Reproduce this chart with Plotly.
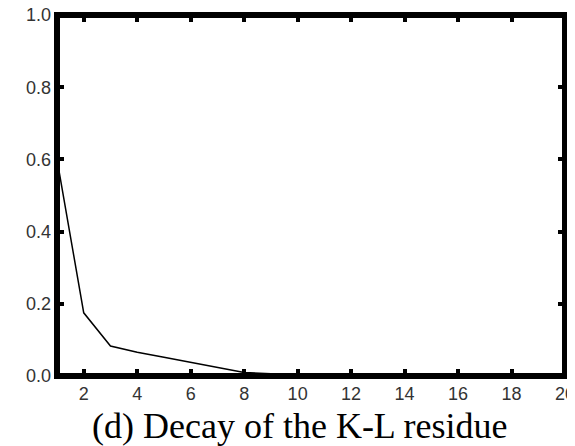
import plotly.graph_objects as go

# Data
x_vals = [1, 2, 3, 4, 5, 6, 7, 8, 9, 10, 11]
residue = [0.60, 0.175, 0.083, 0.066, 0.052, 0.038, 0.024, 0.010, 0.006, 0.004, 0.002]
x_ticks = [2, 4, 6, 8, 10, 12, 14, 16, 18, 20]
y_ticks = [0.0, 0.2, 0.4, 0.6, 0.8, 1.0]
y_tick_text = ["0.0", "0.2", "0.4", "0.6", "0.8", "1.0"]
caption = "(d) Decay of the K-L residue"

fig = go.Figure()
fig.add_trace(go.Scatter(x=x_vals, y=residue, mode="lines",
                         line=dict(color="black", width=1.5),
                         showlegend=False, hoverinfo="skip"))

tickfont = dict(family="Liberation Sans, Arial, sans-serif", size=18, color="#333333")

fig.update_xaxes(range=[1, 20], tickvals=x_ticks, ticks="inside", ticklen=7,
                 tickwidth=4, tickcolor="black", mirror="ticks", showline=False,
                 showgrid=False, zeroline=False, tickfont=tickfont, ticklabelstandoff=5,
                 ticklabeloverflow="allow", automargin=False)
fig.update_yaxes(range=[0, 1], tickvals=y_ticks, ticktext=y_tick_text, ticks="inside",
                 ticklen=7, tickwidth=4, tickcolor="black", mirror="ticks",
                 showline=False, showgrid=False, zeroline=False, tickfont=tickfont,
                 ticklabelstandoff=5, ticklabeloverflow="allow", automargin=False)

# Thick frame around the plot area
fig.add_shape(type="rect", xref="paper", yref="paper", x0=0, y0=0, x1=1, y1=1,
              line=dict(color="black", width=6), layer="above")

fig.add_annotation(text=caption, xref="paper", yref="paper", x=0.478, y=-0.138,
                   xanchor="center", yanchor="middle", showarrow=False,
                   font=dict(family="Liberation Serif, Times New Roman, serif", size=36,
                             color="black"))

fig.update_layout(width=567, height=438, margin=dict(l=49, r=10, t=7, b=70),
                  plot_bgcolor="white", paper_bgcolor="white")

fig.write_html("out.html")
